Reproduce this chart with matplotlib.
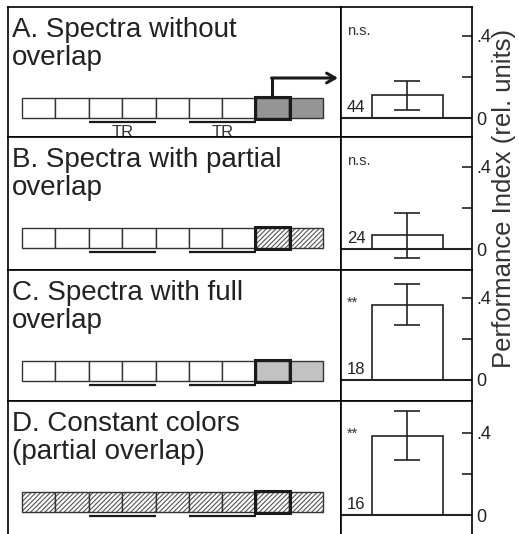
import numpy as np
import matplotlib.pyplot as plt
from matplotlib.patches import Rectangle

plt.rcParams['font.family'] = ['Liberation Sans', 'DejaVu Sans']
plt.rcParams['hatch.linewidth'] = 0.8

# data
panel_titles = ['A. Spectra without\noverlap',
                'B. Spectra with partial\noverlap',
                'C. Spectra with full\noverlap',
                'D. Constant colors\n(partial overlap)']
pi_mean = [0.11, 0.067, 0.365, 0.385]
pi_err = [0.07, 0.11, 0.10, 0.12]
n_flies = [44, 24, 18, 16]
signif = ['n.s.', 'n.s.', '**', '**']
box_fill = [
    ['white'] * 7 + ['dark'] * 2,
    ['white'] * 7 + ['hatch'] * 2,
    ['white'] * 7 + ['light'] * 2,
    ['hatch'] * 9,
]
test_box = 7
tr_ranges = [(2, 4), (5, 7)]
ytick_vals = [0, 0.2, 0.4]
ytick_labels = ['0', '', '.4']

fill_colors = {'white': 'white', 'dark': '#959595', 'light': '#c2c2c2', 'hatch': 'white'}
sig_base = {'n.s.': 28, '**': 37}

# layout (pixels)
W, H = 519, 534
x_left, x_mid, x_right = 8, 341, 472
row_top = [7, 137, 270, 401]
row_bot = [137, 270, 401, 545]
row_zero = [118, 249, 380, 515]
px_unit = 206
box_x0, box_w = 22, 33.4
lw = 1.2

fig = plt.figure(figsize=(W / 100, H / 100), dpi=100)

for i in range(4):
    top, bot, zero = row_top[i], row_bot[i], row_zero[i]
    h = bot - top
    axL = fig.add_axes([x_left / W, 1 - bot / H, (x_mid - x_left) / W, h / H])
    axR = fig.add_axes([x_mid / W, 1 - bot / H, (x_right - x_mid) / W, h / H])

    # --- schematic ---
    axL.set_xlim(-(box_x0 - x_left) / box_w, (x_mid - box_x0) / box_w)
    axL.set_ylim(h, 0)
    axL.set_xticks([])
    axL.set_yticks([])
    for s in axL.spines.values():
        s.set_linewidth(lw)
    axL.text(-(box_x0 - x_left - 4) / box_w, 10, panel_titles[i], va='top', ha='left',
             fontsize=20, linespacing=1.12, color='#222222')

    for j, f in enumerate(box_fill[i]):
        if f == 'hatch':
            axL.add_patch(Rectangle((j, 91), 1, 20, facecolor='white', edgecolor='#555555',
                                    hatch='///////', lw=0))
            axL.add_patch(Rectangle((j, 91), 1, 20, fill=False, edgecolor='#333333', lw=1.0))
        else:
            axL.add_patch(Rectangle((j, 91), 1, 20, facecolor=fill_colors[f],
                                    edgecolor='#333333', lw=1.0))
    axL.add_patch(Rectangle((test_box - 0.03, 90), 1.06, 22, fill=False,
                            edgecolor='#1a1a1a', lw=2.2))

    for a, b in tr_ranges:
        axL.plot([a, b], [115, 115], color='#1a1a1a', lw=1.6, solid_capstyle='butt')
        if i == 0:
            axL.text((a + b) / 2, 118, 'TR', ha='center', va='top', fontsize=12,
                     color='#333333', clip_on=True)

    if i == 0:
        cx = test_box + 0.5
        axL.plot([cx, cx], [90, 71], color='#1a1a1a', lw=2.2, solid_capstyle='butt')
        axL.annotate('', xy=((338 - box_x0) / box_w, 71), xytext=(cx - 0.03, 71),
                     arrowprops=dict(arrowstyle='->,head_length=0.6,head_width=0.35',
                                     color='#1a1a1a', lw=2.2, shrinkA=0, shrinkB=0))

    # --- bar panel ---
    axR.set_xlim(0, 1)
    axR.set_ylim(-(bot - zero) / px_unit, (zero - top) / px_unit)
    axR.bar([0.505], [pi_mean[i]], width=0.54, color='white', edgecolor='#222222', lw=lw,
            yerr=[pi_err[i]], capsize=9.5,
            error_kw=dict(elinewidth=lw, capthick=lw, ecolor='#222222'))
    axR.axhline(0, color='#222222', lw=1.5)
    for s in axR.spines.values():
        s.set_linewidth(lw)
    axR.set_xticks([])
    axR.yaxis.tick_right()
    axR.set_yticks(ytick_vals)
    axR.set_yticklabels(ytick_labels)
    axR.tick_params(axis='y', direction='in', length=7, width=lw, pad=3,
                    labelsize=13, colors='#222222')
    axR.text(0.045, (zero - top - sig_base[signif[i]]) / px_unit, signif[i],
             va='baseline', ha='left', fontsize=10.5, color='#333333')
    axR.text(0.045, 6 / px_unit, str(n_flies[i]), va='baseline', ha='left',
             fontsize=12, color='#222222')

fig.text(504 / W, 1 - 198 / H, 'Performance Index (rel. units)', rotation=90,
         ha='center', va='center', fontsize=18.5, color='#333333')

fig.savefig('out.png', dpi=100)
